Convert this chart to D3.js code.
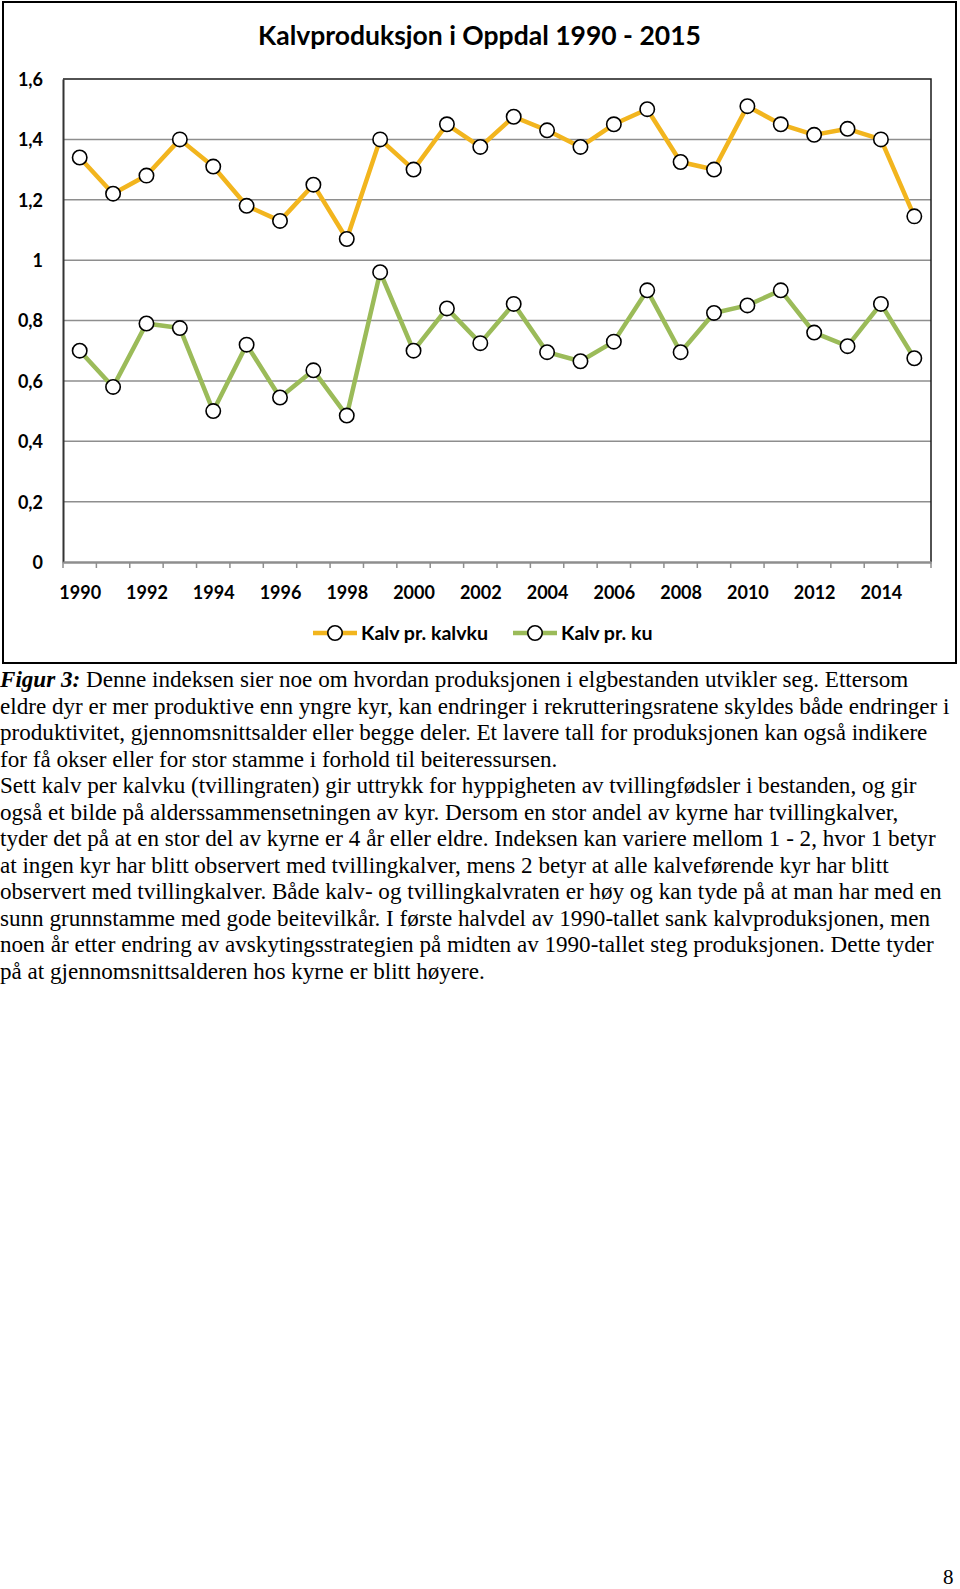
<!DOCTYPE html>
<html>
<head>
<meta charset="utf-8">
<script src="https://cdn.jsdelivr.net/npm/d3@7"></script>
<style>
  html, body { margin: 0; padding: 0; background: #fff; }
  svg { display: block; }
</style>
</head>
<body>
<svg id="chart" width="960" height="1589"></svg>
<script>
const years = d3.range(1990, 2016).map(String);
const kalvPrKalvku = [1.34, 1.22, 1.28, 1.40, 1.31, 1.18, 1.13, 1.25, 1.07, 1.40, 1.30, 1.45, 1.375,
                      1.475, 1.43, 1.375, 1.45, 1.50, 1.325, 1.30, 1.51, 1.45, 1.415, 1.435, 1.40, 1.145];
const kalvPrKu = [0.70, 0.58, 0.79, 0.775, 0.50, 0.72, 0.545, 0.635, 0.485, 0.96, 0.70, 0.84, 0.725,
                  0.855, 0.695, 0.665, 0.73, 0.90, 0.695, 0.825, 0.85, 0.90, 0.76, 0.715, 0.855, 0.675];
const yTicks = [0, 0.2, 0.4, 0.6, 0.8, 1.0, 1.2, 1.4, 1.6];
const xTickLabels = ["1990","1992","1994","1996","1998","2000","2002","2004","2006","2008","2010","2012","2014"];
const seriesNames = ["Kalv pr. kalvku", "Kalv pr. ku"];
const seriesColors = ["#F2B51E", "#9BBB59"];
const title = "Kalvproduksjon i Oppdal 1990 - 2015";
const captionLead = "Figur 3:";
const captionLines = [
  " Denne indeksen sier noe om hvordan produksjonen i elgbestanden utvikler seg. Ettersom",
  "eldre dyr er mer produktive enn yngre kyr, kan endringer i rekrutteringsratene skyldes både endringer i",
  "produktivitet, gjennomsnittsalder eller begge deler. Et lavere tall for produksjonen kan også indikere",
  "for få okser eller for stor stamme i forhold til beiteressursen.",
  "Sett kalv per kalvku (tvillingraten) gir uttrykk for hyppigheten av tvillingfødsler i bestanden, og gir",
  "også et bilde på alderssammensetningen av kyr. Dersom en stor andel av kyrne har tvillingkalver,",
  "tyder det på at en stor del av kyrne er 4 år eller eldre. Indeksen kan variere mellom 1 - 2, hvor 1 betyr",
  "at ingen kyr har blitt observert med tvillingkalver, mens 2 betyr at alle kalveførende kyr har blitt",
  "observert med tvillingkalver. Både kalv- og tvillingkalvraten er høy og kan tyde på at man har med en",
  "sunn grunnstamme med gode beitevilkår. I første halvdel av 1990-tallet sank kalvproduksjonen, men",
  "noen år etter endring av avskytingsstrategien på midten av 1990-tallet steg produksjonen. Dette tyder",
  "på at gjennomsnittsalderen hos kyrne er blitt høyere."
];
const pageNumber = "8";

const svg = d3.select("#chart");
const labelFont = "Lato, 'Open Sans', sans-serif";

// outer chart frame
svg.append("rect").attr("x", 3).attr("y", 2).attr("width", 953).attr("height", 661)
  .attr("fill", "#fff").attr("stroke", "#000").attr("stroke-width", 2);

const plot = { left: 63, right: 931, top: 79, bottom: 562 };

const x = d3.scalePoint().domain(years).range([plot.left, plot.right]).padding(0.5);
const xBand = d3.scaleBand().domain(years).range([plot.left, plot.right]);
const y = d3.scaleLinear().domain([0, 1.6]).range([plot.bottom, plot.top]);

// title
svg.append("text").attr("x", 479.5).attr("y", 45).attr("text-anchor", "middle")
  .attr("font-family", labelFont).attr("font-weight", "bold").attr("font-size", 26.5)
  .attr("fill", "#000").text(title);

// gridlines
svg.append("g").selectAll("line").data(yTicks.filter(d => d > 0 && d < 1.6)).join("line")
  .attr("x1", plot.left).attr("x2", plot.right)
  .attr("y1", d => y(d)).attr("y2", d => y(d))
  .attr("stroke", "#8e8e8e").attr("stroke-width", 1.5);

// plot border top/right
svg.append("path")
  .attr("d", `M${plot.left},${plot.top}H${plot.right}V${plot.bottom}`)
  .attr("fill", "none").attr("stroke", "#1a1a1a").attr("stroke-width", 1.5);

// y axis
const yAxis = d3.axisLeft(y).tickValues(yTicks).tickSize(0).tickPadding(20)
  .tickFormat(d => d3.format("~g")(d).replace(".", ","));
const gy = svg.append("g").attr("transform", `translate(${plot.left},0)`).call(yAxis);
gy.select(".domain").attr("stroke", "#333").attr("stroke-width", 2);
gy.selectAll("text").attr("font-family", labelFont).attr("font-weight", "bold")
  .attr("font-size", 18).attr("fill", "#000").attr("dy", "0.36em");

// x axis
const xAxis = d3.axisBottom(x).tickSize(0).tickPadding(24)
  .tickFormat(d => xTickLabels.includes(d) ? d : "");
const gx = svg.append("g").attr("transform", `translate(0,${plot.bottom})`).call(xAxis);
gx.select(".domain").attr("stroke", "#8e8e8e").attr("stroke-width", 2.5);
gx.selectAll("text").attr("font-family", labelFont).attr("font-weight", "bold")
  .attr("font-size", 18).attr("fill", "#000");
// tick marks at category boundaries
const bounds = years.map(d => xBand(d)).concat([plot.right]);
gx.append("g").selectAll("line").data(bounds).join("line")
  .attr("x1", d => d).attr("x2", d => d).attr("y1", 0).attr("y2", 6)
  .attr("stroke", "#8e8e8e").attr("stroke-width", 1.5);

// series
const allSeries = [kalvPrKalvku, kalvPrKu];
const line = d3.line().x((d, i) => x(years[i])).y(d => y(d));
allSeries.forEach((vals, si) => {
  svg.append("path").datum(vals).attr("d", line)
    .attr("fill", "none").attr("stroke", seriesColors[si]).attr("stroke-width", 4.5)
    .attr("stroke-linejoin", "round");
});
allSeries.forEach((vals) => {
  svg.append("g").selectAll("circle").data(vals).join("circle")
    .attr("cx", (d, i) => x(years[i])).attr("cy", d => y(d)).attr("r", 7.2)
    .attr("fill", "#fff").attr("stroke", "#000").attr("stroke-width", 1.6);
});

// legend
const legendItems = [{ x: 313, textX: 361 }, { x: 513, textX: 561 }];
legendItems.forEach((it, i) => {
  const g = svg.append("g");
  g.append("line").attr("x1", it.x).attr("x2", it.x + 44).attr("y1", 633).attr("y2", 633)
    .attr("stroke", seriesColors[i]).attr("stroke-width", 4.5);
  g.append("circle").attr("cx", it.x + 22).attr("cy", 633).attr("r", 7.2)
    .attr("fill", "#fff").attr("stroke", "#000").attr("stroke-width", 1.6);
  g.append("text").attr("x", it.textX).attr("y", 639.5)
    .attr("font-family", labelFont).attr("font-weight", "bold").attr("font-size", 19.6)
    .attr("fill", "#000").text(seriesNames[i]);
});

// caption
const serif = "'Liberation Serif', 'Times New Roman', serif";
captionLines.forEach((ln, i) => {
  const t = svg.append("text").attr("x", 0).attr("y", 687 + i * 26.5)
    .attr("font-family", serif).attr("font-size", 23.1).attr("fill", "#000");
  if (i === 0) {
    t.append("tspan").attr("font-weight", "bold").attr("font-style", "italic").text(captionLead);
  }
  t.append("tspan").text(ln);
});

svg.append("text").attr("x", 943).attr("y", 1584)
  .attr("font-family", serif).attr("font-size", 21).attr("fill", "#000").text(pageNumber);
</script>
</body>
</html>
